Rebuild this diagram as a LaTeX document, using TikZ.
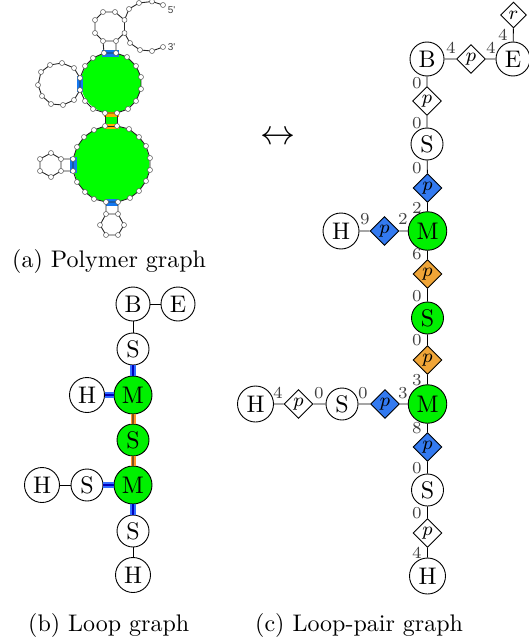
\documentclass[tikz,border=0pt]{standalone}
\usepackage{fontspec}
\usepackage{graphicx}
\usetikzlibrary{shapes.geometric}
\newfontfamily\helv{Liberation Sans}
\newcommand{\TT}[1]{\scalebox{2.4}{#1}}
\newcommand{\PP}[1]{\scalebox{2.4}{\footnotesize$#1$}}
\newcommand{\NN}[1]{\scalebox{2.4}{\scriptsize #1}}
\definecolor{bluep}{RGB}{51,122,240}
\definecolor{orangep}{RGB}{240,165,55}
\definecolor{greenn}{RGB}{0,255,0}
\definecolor{gnode}{RGB}{0,240,0}
\definecolor{bandblue}{RGB}{20,120,240}
\definecolor{bandorange}{RGB}{255,170,0}
\definecolor{lab}{gray}{0.25}
\definecolor{eb}{RGB}{50,110,255}
\definecolor{ebd}{RGB}{0,0,190}
\definecolor{eo}{RGB}{255,150,40}
\definecolor{eod}{RGB}{130,80,30}
\tikzset{
 lp/.style={circle,draw,line width=0.9pt,inner sep=0pt},
 dm/.style={diamond,draw,line width=0.9pt,fill=white,inner sep=0pt,minimum width=29pt,minimum height=29pt},
 numl/.style={text=lab,inner sep=0pt},
 nt/.style={circle,draw=black!65,line width=0.5pt,fill=white,inner sep=0pt,minimum size=5pt},
 bb/.style={line width=0.9pt,draw=black!85},
 captext/.style={inner sep=0pt,anchor=base west},
 cedge/.style={line width=0.9pt},
 eblue/.style={line width=5.5pt,draw=eb},
 eblueb/.style={line width=2pt,draw=ebd},
 eor/.style={line width=5pt,draw=eo},
 eorb/.style={line width=1.4pt,draw=eod},
}
\begin{document}
\begin{tikzpicture}[x=1pt,y=-1pt]
\useasboundingbox (0,0) rectangle (528,642);
% panel a
\fill[greenn] (111,83) circle (30);
\fill[greenn] (111.5,164) circle (38);
\fill[greenn] (105.5,116) rectangle (117,124);
\fill[bandblue] (102,50) rectangle (119,57);
\fill[bandblue] (77,76) rectangle (83,92);
\fill[bandorange] (103.5,111.5) rectangle (118.5,116.5);
\fill[bandorange] (103.5,123.5) rectangle (118.5,128.5);
\fill[bandblue] (70,157) rectangle (77,173);
\fill[bandblue] (106,199) rectangle (118,206);
\foreach \n/\x/\y in {
a1/163/5,a0/152/1.5,a2/139/3,a3/129/9,
b1/124.5/20,b2/115/12,b3/103/12,b4/95/20,b5/95/33,b6/103/41,b7/116/41,b8/124.5/33,
c1/130/43,c2/140/50,c3/152/51,c4/163/47,
d1/104/53,d2/116/53,d3/127/57,d4/136/66,d5/141/77,d6/141/89,d7/136/101,d8/128/109,d9/117/113,d10/105/113,d11/93/109,d12/85/101,d13/80/90,d14/80/78,d15/85/66,d16/93/58,
e1/74/68,e2/62/63,e3/50/65,e4/41/72,e5/38/85,e6/42/96,e7/51/104,e8/63/105,e9/74/100,
f1/105/126,f2/117/126,f3/129/129,f4/139/137,f5/146/146,f6/150/158,f7/150/170,f8/146/181,f9/139/191,f10/130/198,f11/118/202,f12/106/202,f13/94/199,f14/85/192,f15/77/182,f16/73/171,f17/73/159,f18/77/147,f19/84/137,f20/94/130,
g1/61/159,g2/51/153,g3/40/159,g4/40/171,g5/51/177,g6/61/171,
h1/106/214,h2/118/214,h3/124/225,h4/118/235,h5/106/235,h6/100/225}
 \coordinate (\n) at (\x,\y);
\draw[bb] (a1)--(a0)--(a2)--(a3)--(b1);
\draw[bb] (b8)--(c1)--(c2)--(c3)--(c4);
\draw[bb] (b1)--(b2)--(b3)--(b4)--(b5)--(b6)--(b7)--(b8)--cycle;
\draw[bb] (b6)--(d1)--(d2)--(b7);
\draw[bb] (d1)--(d16)--(d15)--(d14)--(d13)--(d12)--(d11)--(d10)--(d9)--(d8)--(d7)--(d6)--(d5)--(d4)--(d3)--(d2);
\draw[bb] (d14)--(e1)--(e2)--(e3)--(e4)--(e5)--(e6)--(e7)--(e8)--(e9)--(d13);
\draw[bb] (d10)--(f1) (d9)--(f2) (f1)--(f2);
\draw[bb] (f1)--(f20)--(f19)--(f18)--(f17)--(f16)--(f15)--(f14)--(f13)--(f12)--(f11)--(f10)--(f9)--(f8)--(f7)--(f6)--(f5)--(f4)--(f3)--(f2);
\draw[bb] (f17)--(g1)--(g2)--(g3)--(g4)--(g5)--(g6)--(f16) (g1)--(g6);
\draw[bb] (f12)--(h1)--(h2)--(f11) (h1)--(h6)--(h5)--(h4)--(h3)--(h2);
\foreach \n in {a1,a0,a2,a3,b1,b2,b3,b4,b5,b6,b7,b8,c1,c2,c3,c4,d1,d2,d3,d4,d5,d6,d7,d8,d9,d10,d11,d12,d13,d14,d15,d16,e1,e2,e3,e4,e5,e6,e7,e8,e9,f1,f2,f3,f4,f5,f6,f7,f8,f9,f10,f11,f12,f13,f14,f15,f16,f17,f18,f19,f20,g1,g2,g3,g4,g5,g6,h1,h2,h3,h4,h5,h6}
 \node[nt] at (\n) {};
\node[inner sep=0pt,text=black!75,font=\fontsize{10}{10}\selectfont\helv] at (171.5,10) {5'};
\node[inner sep=0pt,text=black!75,font=\fontsize{10}{10}\selectfont\helv] at (171.5,47) {3'};
% panel b
\tikzset{bn/.style={lp,minimum size=34pt},bg/.style={lp,fill=gnode,minimum size=38pt}}
\node[bn] (bB) at (133,304) {\TT{B}};
\node[bn] (bE) at (178,304) {\TT{E}};
\node[bn,minimum size=32pt] (bS1) at (133,349) {\TT{S}};
\node[bg] (bM1) at (133,395) {\TT{M}};
\node[bn,minimum size=35pt] (bH1) at (87,395) {\TT{H}};
\node[bg,minimum size=32pt] (bS2) at (133,440) {\TT{S}};
\node[bg] (bM2) at (133,485) {\TT{M}};
\node[bn,minimum size=32pt] (bS3) at (87,485) {\TT{S}};
\node[bn,minimum size=35pt] (bH2) at (42,485) {\TT{H}};
\node[bn,minimum size=32pt] (bS4) at (133,531) {\TT{S}};
\node[bn,minimum size=35pt] (bH3) at (133,575) {\TT{H}};
\draw[cedge] (bB)--(bE) (bB)--(bS1) (bH2)--(bS3) (bS4)--(bH3);
\foreach \a/\b in {bS1/bM1,bH1/bM1,bS3/bM2,bM2/bS4}{\draw[eblue] (\a)--(\b);\draw[eblueb] (\a)--(\b);}
\foreach \a/\b in {bM1/bS2,bS2/bM2}{\draw[eor] (\a)--(\b);\draw[eorb] (\a)--(\b);}
% panel c
\tikzset{cn/.style={lp,minimum size=34pt},cg/.style={lp,fill=gnode,minimum size=38.5pt}}
\node[cn] (B) at (427,59) {\TT{B}};
\node[cn] (E) at (513,59) {\TT{E}};
\node[dm] (pBE) at (471,59) {\PP{p}};
\node[dm,minimum width=26pt,minimum height=26pt] (r) at (513.5,15) {\PP{r}};
\node[dm] (p1) at (427,101) {\PP{p}};
\node[cn,minimum size=32pt] (S1) at (427,144) {\TT{S}};
\node[dm,fill=bluep] (p2) at (427.5,188) {\PP{p}};
\node[cg] (M1) at (427.5,231) {\TT{M}};
\node[dm,fill=bluep] (p3) at (384.5,231) {\PP{p}};
\node[cn,minimum size=36pt] (H1) at (341,231) {\TT{H}};
\node[dm,fill=orangep] (p4) at (427.5,274) {\PP{p}};
\node[cg,minimum size=32pt] (S2) at (427.5,318) {\TT{S}};
\node[dm,fill=orangep] (p5) at (427.5,360) {\PP{p}};
\node[cg] (M2) at (427.5,404) {\TT{M}};
\node[dm,fill=bluep] (p6) at (385,404) {\PP{p}};
\node[cn,minimum size=32pt] (S3) at (342,404) {\TT{S}};
\node[dm] (p7) at (298.5,404) {\PP{p}};
\node[cn,minimum size=36pt] (H2) at (255.5,404) {\TT{H}};
\node[dm,fill=bluep] (p8) at (427.5,447) {\PP{p}};
\node[cn,minimum size=32pt] (S4) at (427.5,490) {\TT{S}};
\node[dm] (p9) at (427.5,533) {\PP{p}};
\node[cn,minimum size=36pt] (H3) at (427.5,576) {\TT{H}};
\draw[cedge] (B)--(pBE) (pBE)--(E) (E)--(r) (B)--(p1) (p1)--(S1) (S1)--(p2) (p2)--(M1) (M1)--(p3) (p3)--(H1) (M1)--(p4) (p4)--(S2) (S2)--(p5) (p5)--(M2) (M2)--(p6) (p6)--(S3) (S3)--(p7) (p7)--(H2) (M2)--(p8) (p8)--(S4) (S4)--(p9) (p9)--(H3);
\foreach \t/\x/\y in {4/451/48,4/491/48,4/503/35,0/417/83,0/417/123,0/417/168,2/417/208,2/403/219,9/365/219,6/417/254,0/417/296,0/417/340,3/417/380,3/403/393,8/417/428,0/417/468,0/417/513,4/417/553,4/278/393,0/319/393,0/363/393}
 \node[numl] at (\x,\y) {\NN{\t}};
% captions
\node[captext] at (12,267) {\TT{(a) Polymer graph}};
\node[captext] at (28,631) {\TT{(b) Loop graph}};
\node[captext] at (255,631) {\TT{(c) Loop-pair graph}};
\node[inner sep=0pt] at (277.5,138) {\scalebox{3.5}{$\leftrightarrow$}};
\end{tikzpicture}
\end{document}
